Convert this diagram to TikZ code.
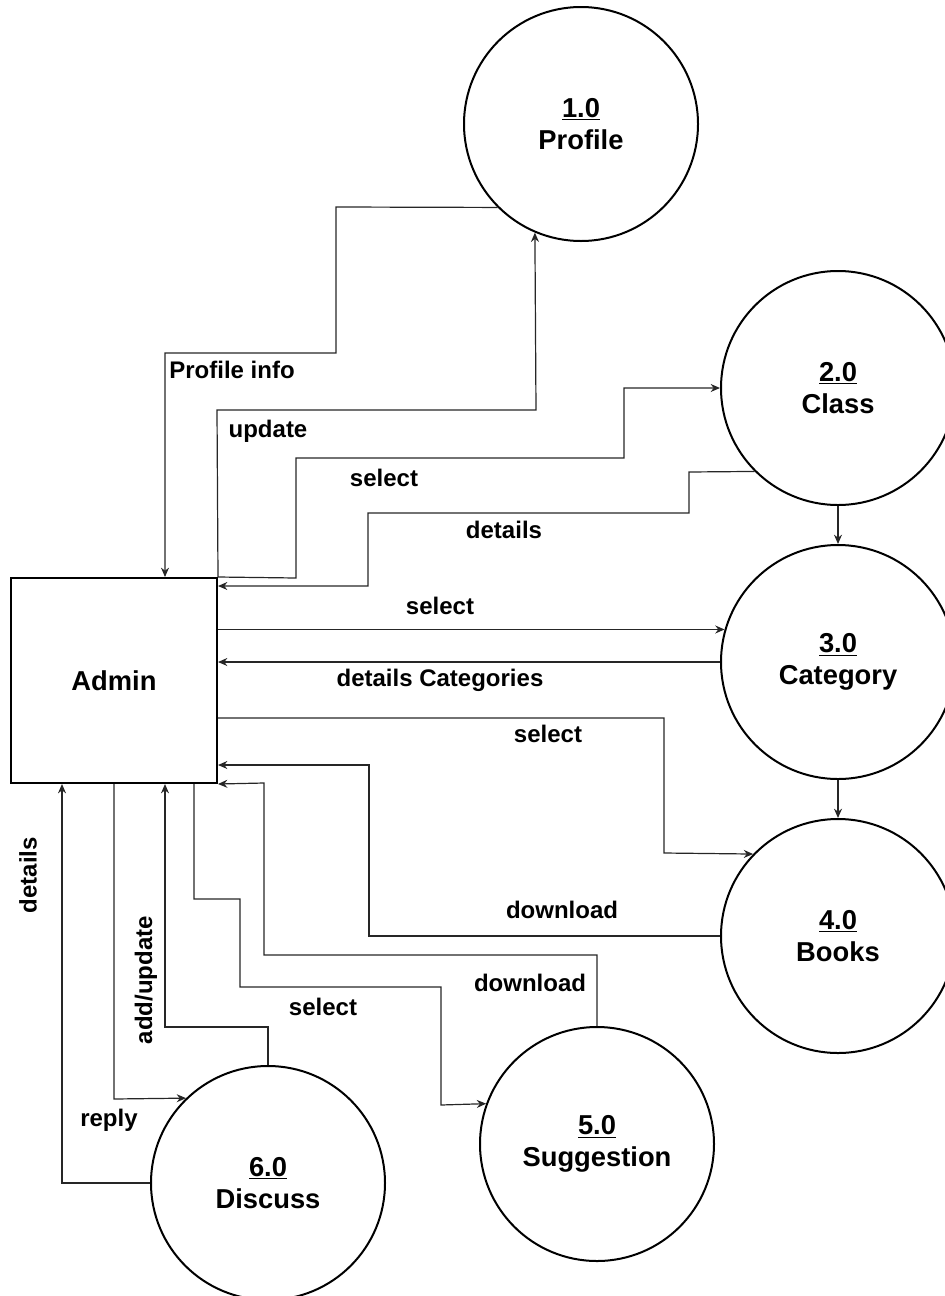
\documentclass[tikz,border=0pt]{standalone}
\usepackage{fontspec}
\setmainfont{Liberation Sans}
\usetikzlibrary{arrows.meta,shapes.geometric}
\tikzstyle{process} = [circle, draw=black, line width=1.5pt, minimum size=175.5pt, inner sep=0pt, align=center, font=\fontsize{20.5}{24}\selectfont\bfseries]
\tikzstyle{entity} = [rectangle, draw=black, line width=1.5pt, minimum width=154.5pt, minimum height=153.75pt, font=\fontsize{20.5}{24}\selectfont\bfseries]
\tikzstyle{arrow} = [line width=0.9pt, draw=black!85, -{Stealth[length=7pt,width=6pt]}]
\tikzstyle{flowlabel} = [inner sep=0pt, font=\fontsize{18}{21}\selectfont\bfseries]

\begin{document}
\begin{tikzpicture}[x=0.75pt, y=-0.75pt]
  \useasboundingbox (0,0) rectangle (945,1296);
  \node (admin)[entity] at (114,680.5) {Admin};
  \node (profile)[process] at (581,124) {\underline{1.0}\\Profile};
  \node (class)[process] at (838,388) {\underline{2.0}\\Class};
  \node (category)[process] at (838,662) {\underline{3.0}\\Category};
  \node (books)[process] at (838,936) {\underline{4.0}\\Books};
  \node (suggestion)[process] at (597,1144) {\underline{5.0}\\Suggestion};
  \node (discuss)[process] at (268,1183) {\underline{6.0}\\Discuss};

  % admin <-> profile
  \draw [arrow] (profile.225) -- (336,207) -- (336,353) -- (165,353) -- (165,353 |- admin.north);
  \draw [arrow] (admin.north east) -- (217,410) -- (536,410) -- (profile.247);
  % admin <-> class
  \draw [arrow] (admin.north east) -- (296,578) -- (296,458) -- (624,458) -- (624,388) -- (class.west);
  \draw [arrow] (class.225) -- (689,472) -- (689,513) -- (368,513) -- (368,586) -- (368,586 -| admin.east);
  \draw [arrow] (class.south) -- (category.north);
  % admin <-> category
  \draw [arrow] (admin.east |- category.164) -- (category.164);
  \draw [arrow] (category.west) -- (category.west -| admin.east);
  \draw [arrow] (category.south) -- (books.north);
  % admin <-> books
  \draw [arrow] (admin.east |- 0,718) -- (664,718) -- (664,853) -- (books.136);
  \draw [arrow] (books.west) -- (369,936) -- (369,765) -- (369,765 -| admin.east);
  % admin <-> suggestion
  \draw [arrow] (194,0 |- admin.south) -- (194,899) -- (240,899) -- (240,987) -- (441,987) -- (441,1105) -- (suggestion.160);
  \draw [arrow] (suggestion.north) -- (597,955) -- (264,955) -- (264,783) -- (admin.south east);
  % admin <-> discuss
  \draw [arrow] (discuss.north) -- (268,1027) -- (165,1027) -- (165,1027 |- admin.south);
  \draw [arrow] (114,0 |- admin.south) -- (114,1099) -- (discuss.134);
  \draw [arrow] (discuss.west) -- (62,1183) -- (62,1183 |- admin.south);

  % labels
  \node (lprofileinfo)[flowlabel] at (232,370) {Profile info};
  \node (lupdate)[flowlabel] at (268,431) {update};
  \node (lselectclass)[flowlabel] at (384,478) {select};
  \node (ldetailsclass)[flowlabel] at (504,530) {details};
  \node (lselectcat)[flowlabel] at (440,606) {select};
  \node (ldetailscat)[flowlabel] at (440,680) {details Categories};
  \node (lselectbooks)[flowlabel] at (548,734) {select};
  \node (ldownbooks)[flowlabel] at (562,910) {download};
  \node (ldownsugg)[flowlabel] at (530,983) {download};
  \node (lselectsugg)[flowlabel] at (323,1007) {select};
  \node (laddupdate)[flowlabel, rotate=90] at (146,980) {add/update};
  \node (lreply)[flowlabel] at (109,1120) {reply};
  \node (ldetailsdisc)[flowlabel, rotate=90] at (28,875) {details};
\end{tikzpicture}
\end{document}
